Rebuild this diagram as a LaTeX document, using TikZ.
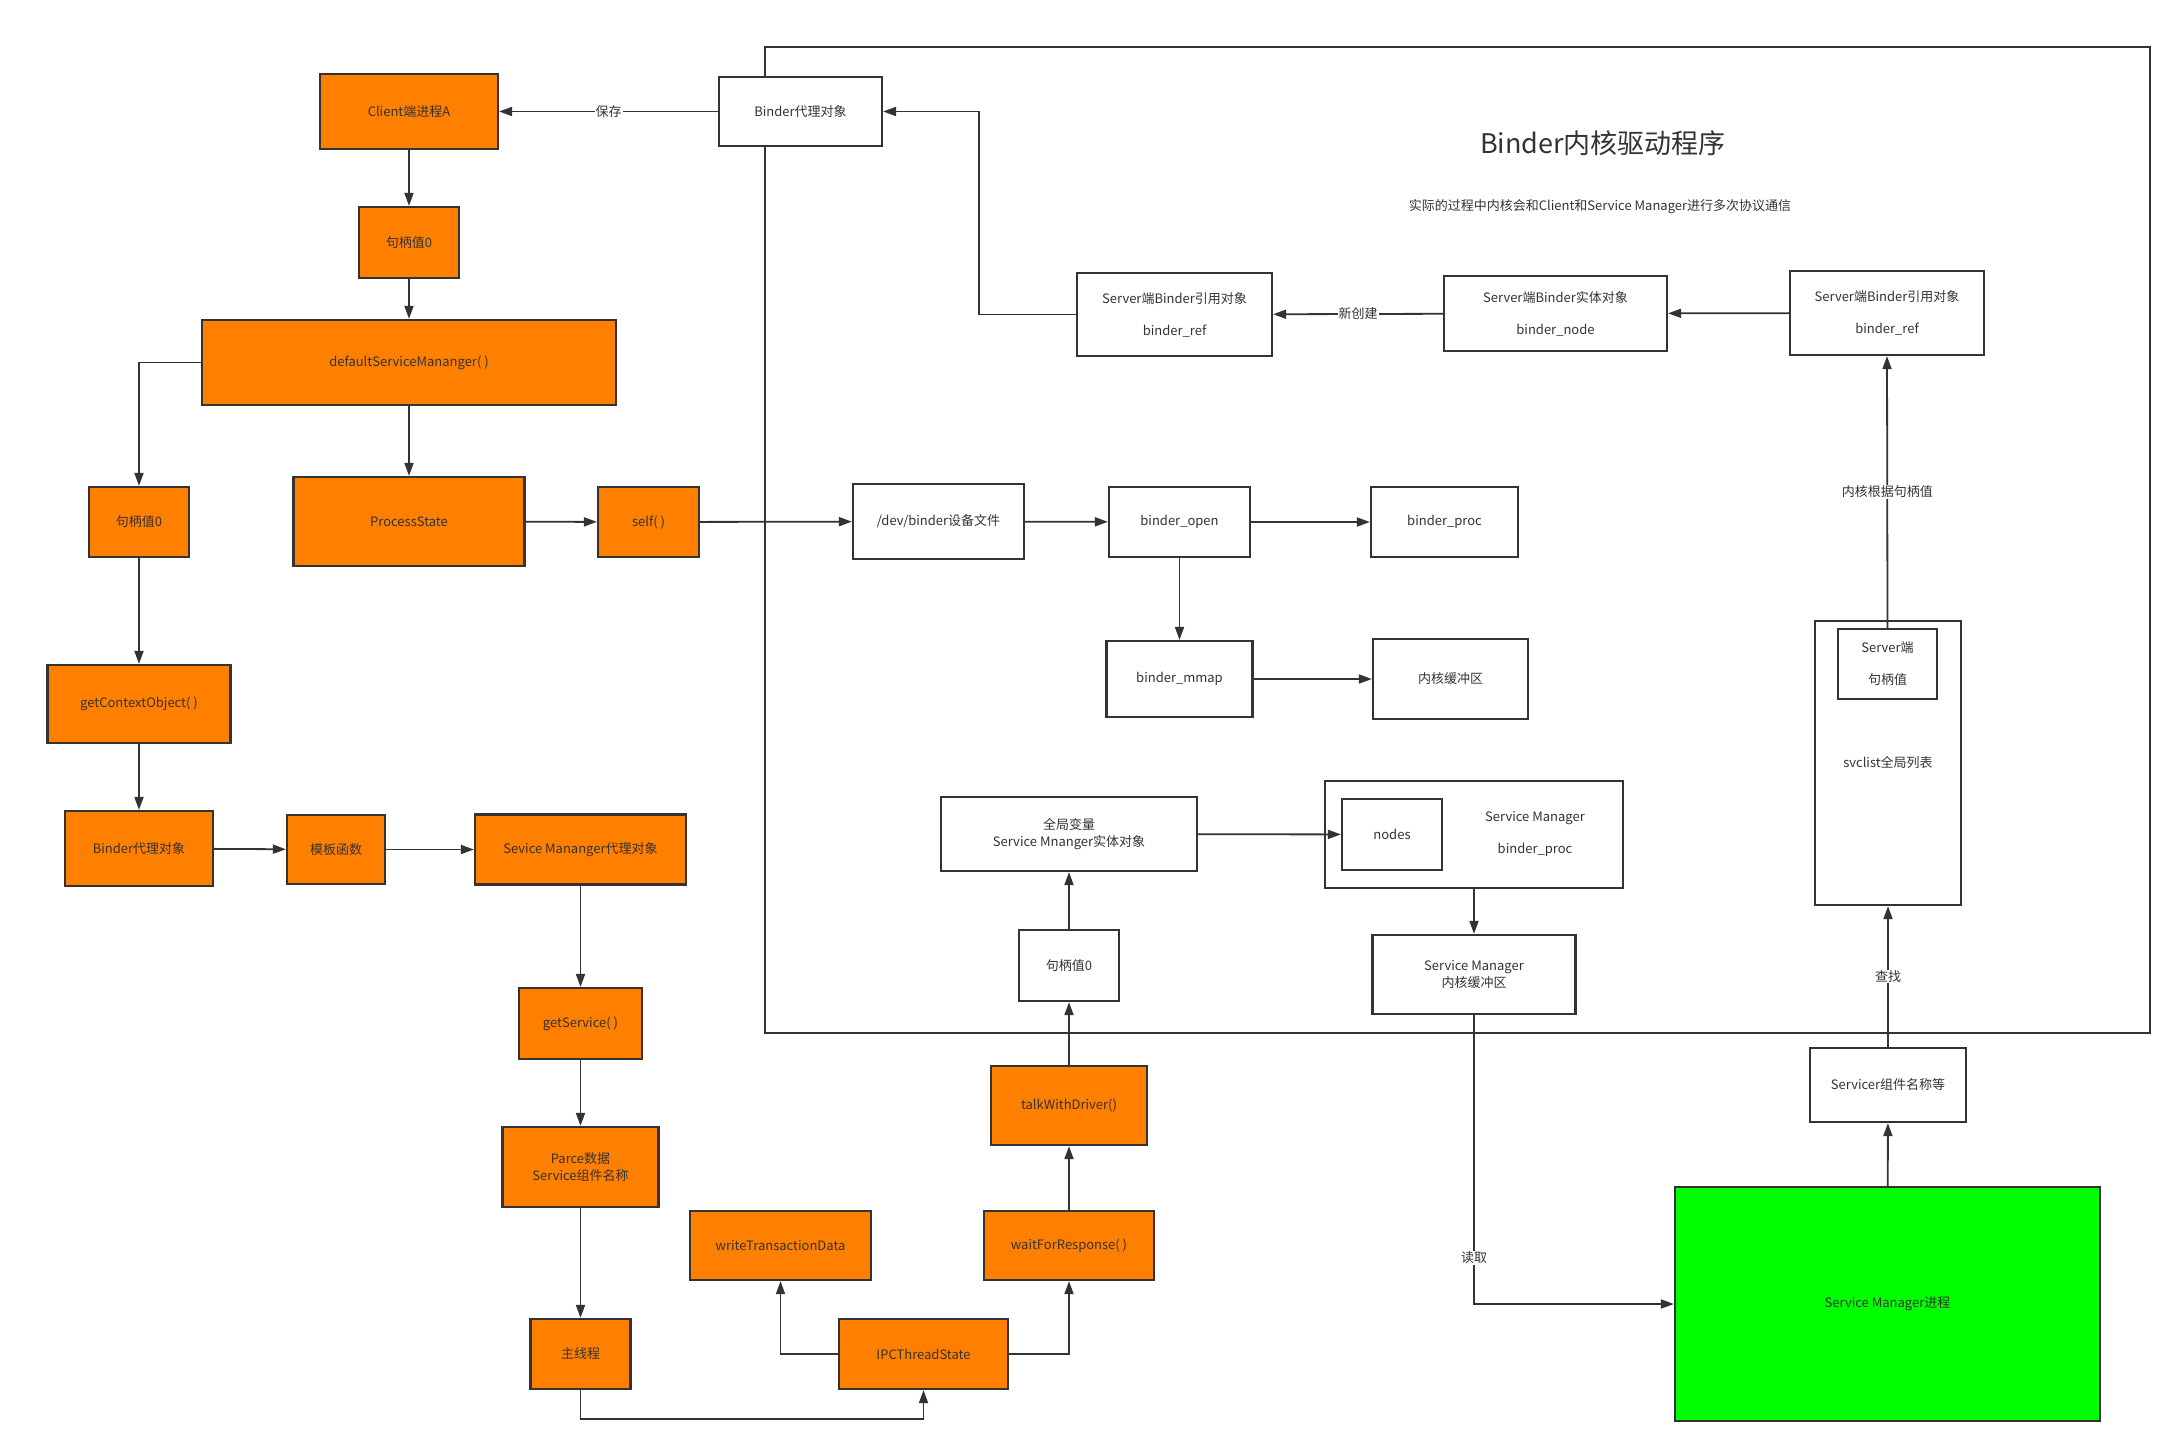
\documentclass[tikz,border=0pt]{standalone}
\usepackage{fontspec}
\setmainfont{Noto Sans CJK SC}
\usetikzlibrary{arrows.meta}
\definecolor{line}{HTML}{333333}
\definecolor{orng}{HTML}{FF8000}
\definecolor{lime}{HTML}{00FF00}

\begin{document}
\begin{tikzpicture}[x=1pt,y=-1pt,
  font=\fontsize{13}{17}\selectfont, text=line,
  obox/.style={draw=line,fill=orng,line width=2.2pt,align=center,inner sep=2pt},
  wbox/.style={draw=line,fill=white,line width=2.2pt,align=center,inner sep=2pt},
  gbox/.style={draw=line,fill=lime,line width=2.2pt,align=center},
  sz/.style 2 args={minimum width=#1pt,minimum height=#2pt},
  arr/.style={draw=line,line width=1.8pt,-{Triangle[length=13pt,width=9pt]}},
  lbl/.style={fill=white,inner sep=1pt}]
  \useasboundingbox (0,0) rectangle (2182,1453);
  % kernel frame
  \node[draw=line,line width=2pt,sz={1385}{986}] (kernel) at (1457.5,540) {};
  \node[font=\fontsize{27}{30}\selectfont] (title) at (1603,143) {Binder内核驱动程序};
  \node (note) at (1600,207) {实际的过程中内核会和Client和Service Manager进行多次协议通信};
  % client side
  \node[obox,sz={178}{75}] (client) at (409,111.5) {Client端进程A};
  \node[wbox,sz={163}{69}] (proxyw) at (800.5,111.5) {Binder代理对象};
  \node[obox,sz={100}{71}] (hdlA) at (409,242.5) {句柄值0};
  \node[obox,sz={414}{85}] (dsm) at (409,362.5) {defaultServiceMananger( )};
  \node[obox,sz={100}{70}] (hdlB) at (139,522) {句柄值0};
  \node[obox,sz={231}{89}] (pstate) at (409,521.5) {ProcessState};
  \node[obox,sz={101}{70}] (self) at (648.5,522) {self( )};
  \node[obox,sz={183}{78}] (getctx) at (139,704) {getContextObject( )};
  \node[obox,sz={148}{75}] (proxyo) at (139,848.5) {Binder代理对象};
  \node[obox,sz={98}{69}] (tmpl) at (336,849.5) {模板函数};
  \node[obox,sz={211}{70}] (smproxy) at (580.5,849.5) {Sevice Mananger代理对象};
  \node[obox,sz={123}{71}] (getsvc) at (580.5,1023.5) {getService( )};
  \node[obox,sz={156}{80}] (parcel) at (580.5,1167) {Parce数据\\Service组件名称};
  \node[obox,sz={100}{70}] (mainth) at (580.5,1354) {主线程};
  \node[obox,sz={169}{70}] (ipc) at (923.5,1354) {IPCThreadState};
  \node[obox,sz={181}{69}] (wtd) at (780.5,1245.5) {writeTransactionData};
  \node[obox,sz={170}{69}] (wfr) at (1069,1245.5) {waitForResponse( )};
  \node[obox,sz={156}{79}] (twd) at (1069,1105.5) {talkWithDriver()};
  % inside the driver
  \node[wbox,sz={171}{75}] (devb) at (938.5,521.5) {/dev/binder设备文件};
  \node[wbox,sz={141}{70}] (bopen) at (1179.5,522) {binder\_open};
  \node[wbox,sz={147}{70}] (bproc) at (1444.5,522) {binder\_proc};
  \node[wbox,sz={146}{76}] (bmmap) at (1179.5,679) {binder\_mmap};
  \node[wbox,sz={155}{80}] (kbuf) at (1450.5,679) {内核缓冲区};
  \node[wbox,sz={100}{71}] (hdlC) at (1069,965.5) {句柄值0};
  \node[wbox,sz={256}{74}] (smobj) at (1069,834) {全局变量\\Service Mnanger实体对象};
  \node[wbox,sz={298}{107}] (smbox) at (1474,834.5) {};
  \node[align=center] (smtxt) at (1535,834) {Service Manager\\[15pt]binder\_proc};
  \node[wbox,sz={100}{71}] (nodes) at (1392,834.5) {nodes};
  \node[wbox,sz={203}{79}] (smbuf) at (1474,974.5) {Service Manager\\内核缓冲区};
  \node[wbox,sz={195}{83}] (refL) at (1174.5,314.5) {Server端Binder引用对象\\[15pt]binder\_ref};
  \node[wbox,sz={223}{75}] (bnode) at (1555.5,313.5) {Server端Binder实体对象\\[15pt]binder\_node};
  \node[wbox,sz={194}{84}] (refR) at (1887,313) {Server端Binder引用对象\\[15pt]binder\_ref};
  \node[wbox,sz={146}{284}] (svclist) at (1888,763) {svclist全局列表};
  \node[wbox,sz={99}{70}] (srvhdl) at (1887.5,664) {Server端\\[15pt]句柄值};
  % service manager process
  \node[wbox,sz={156}{74}] (svcname) at (1888,1085) {Servicer组件名称等};
  \node[gbox,sz={425}{234}] (smproc) at (1887.5,1304) {Service Manager进程};

  % left column
  \draw[arr] (proxyw.west) -- node[lbl]{保存} (client.east);
  \draw[arr] (client) -- (hdlA);
  \draw[arr] (hdlA) -- (dsm);
  \draw[arr] (dsm.west) -| (hdlB.north);
  \draw[arr] (dsm) -- (pstate);
  \draw[arr] (pstate) -- (self);
  \draw[arr] (self) -- (devb);
  \draw[arr] (hdlB) -- (getctx);
  \draw[arr] (getctx) -- (proxyo);
  \draw[arr] (proxyo) -- (tmpl);
  \draw[arr] (tmpl) -- (smproxy);
  \draw[arr] (smproxy) -- (getsvc);
  \draw[arr] (getsvc) -- (parcel);
  \draw[arr] (parcel) -- (mainth);
  \draw[arr] (mainth.south) -- ++(0,29) -| (ipc.south);
  \draw[arr] (ipc.west) -| (wtd.south);
  \draw[arr] (ipc.east) -| (wfr.south);
  \draw[arr] (wfr) -- (twd);
  \draw[arr] (twd) -- (hdlC);
  \draw[arr] (hdlC) -- (smobj);
  % driver
  \draw[arr] (devb) -- (bopen);
  \draw[arr] (bopen) -- (bproc);
  \draw[arr] (bopen) -- (bmmap);
  \draw[arr] (bmmap) -- (kbuf);
  \draw[arr] (smobj) -- (nodes);
  \draw[arr] (smbox) -- (smbuf);
  \draw[arr] (smbuf.south) |- node[lbl,pos=0.42]{读取} (smproc.west);
  \draw[arr] (smproc) -- (svcname);
  \draw[arr] (svcname) -- node[lbl]{查找} (svclist);
  \draw[arr] (srvhdl.north) -- node[lbl]{内核根据句柄值} (refR.south);
  \draw[arr] (refR) -- (bnode);
  \draw[arr] (bnode) -- node[lbl]{新创建} (refL);
  \draw[arr] (refL.west) -- ++(-97,0) |- (proxyw.east);
\end{tikzpicture}
\end{document}
